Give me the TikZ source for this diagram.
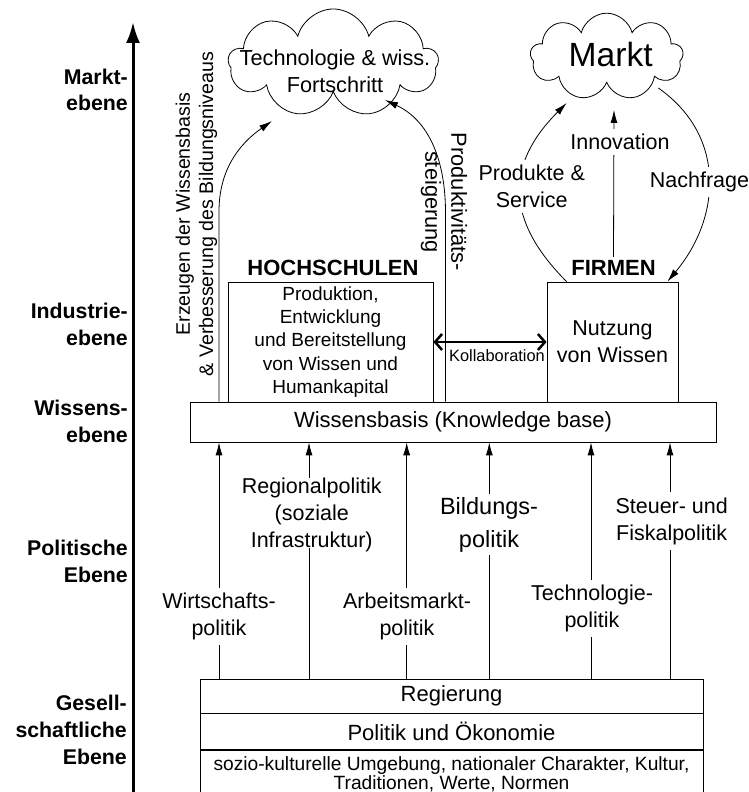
\documentclass[tikz,border=0pt]{standalone}
\usepackage{fontspec}
\setmainfont{Liberation Sans}
\usetikzlibrary{positioning, arrows.meta, shapes.symbols, calc}

\newcommand{\schrift}[2]{\fontsize{#1}{#2}\selectfont}

\begin{document}
\begin{tikzpicture}[x=1pt, y=1pt, >={Latex[length=13pt,width=7pt]},
    box/.style={draw, line width=0.8pt, inner sep=0pt, align=center},
    wolke/.style={cloud, draw, line width=0.8pt, cloud puffs=9, cloud ignores aspect, inner sep=0pt},
    ebene/.style={anchor=east, align=right, inner sep=0pt, font=\bfseries\schrift{21.3}{26.7}},
    politik/.style={align=center, fill=white, inner xsep=2pt, inner ysep=5pt, font=\schrift{21.5}{27}},
    pfeil/.style={->, line width=0.8pt}]

    \useasboundingbox (0,0) rectangle (749,792);
    \clip (0,0) rectangle (749,792);

    \coordinate (achse0) at (133,-5);
    \coordinate (achse1) at (133,770);
    \draw[line width=3pt, -{Latex[length=21pt,width=14pt]}] (achse0) -- (achse1);

    \node[ebene] (lvmarkt) at (128,702) {Markt-\\ebene};
    \node[ebene] (lvindustrie) at (128,467.3) {Industrie-\\ebene};
    \node[ebene] (lvwissen) at (128,370.3) {Wissens-\\ebene};
    \node[ebene] (lvpolitik) at (128,230.3) {Politische\\Ebene};
    \node[ebene] (lvgesell) at (127,62) {Gesell-\\schaftliche\\Ebene};

    \node[wolke, minimum width=210pt, minimum height=108pt] (tf) at (333.3,729) {};
    \node[align=center, font=\schrift{21.7}{27}] (tftext) at (335,720.5) {Technologie \& wiss.\\Fortschritt};
    \node[wolke, minimum width=153pt, minimum height=87pt] (mk) at (606.7,735.3) {};
    \node[font=\schrift{33.6}{40}] (mktext) at (610.7,737) {Markt};

    \node[box, minimum width=526pt, minimum height=40pt, font=\schrift{22}{26}] (wb) at (453,370) {Wissensbasis (Knowledge base)};
    \node[box, minimum width=205pt, minimum height=120pt, font=\schrift{19}{23.3}] (hs) at (330.5,450) {Produktion,\\Entwicklung\\und Bereitstellung\\von Wissen und\\Humankapital};
    \node[box, minimum width=131pt, minimum height=120pt, font=\schrift{21.5}{27}] (fi) at (612.5,450) {Nutzung\\von Wissen};
    \node[font=\bfseries\schrift{22}{26}] (hslbl) at (333,524) {HOCHSCHULEN};
    \node[font=\bfseries\schrift{22}{26}] (filbl) at (613.5,524) {FIRMEN};

    \node[box, minimum width=503pt, minimum height=34pt, font=\schrift{22}{26}] (rg) at (451.5,96) {Regierung};
    \node[box, minimum width=503pt, minimum height=36pt, font=\schrift{22}{26}, below=0pt of rg] (po) {Politik und Ökonomie};
    \node[box, minimum width=503pt, minimum height=47pt, font=\schrift{19.2}{19.5}, below=0pt of po] (so) {sozio-kulturelle Umgebung, nationaler Charakter, Kultur,\\Traditionen, Werte, Normen};

    \coordinate (e0) at (219,0);
    \coordinate (e1) at (445.5,0);
    \coordinate (tfl) at ($(tf.center)+(-61.3,-58)$);
    \coordinate (tfr) at ($(tf.center)+(51.7,-37)$);
    \coordinate (mkl) at ($(mk.center)+(-40,-46.3)$);
    \coordinate (mkb) at ($(mk.center)+(7.3,-53.3)$);
    \coordinate (mkr) at ($(mk.center)+(51.6,-31.3)$);

    \foreach \x [count=\i] in {219,309,406.7,489.3,591,670}
        \coordinate (p\i) at (\x,0);

    \foreach \i in {1,...,6}
        \draw[pfeil] (rg.north -| p\i) -- (wb.south -| p\i);

    \draw[pfeil] (wb.north -| e0) -- ++(0,190) to[out=90, in=215] (tfl);
    \draw[pfeil] (wb.north -| e1) -- ++(0,189) to[out=90, in=-25] (tfr);

    \path[pfeil]
    ([xshift=20pt]fi.north west) edge [out=135, in=225, looseness=1.25] (mkl)
    (filbl.north) edge (mkb)
    (mkr) edge [out=-35, in=50, looseness=1.1] ([xshift=-11pt]fi.north east)
    ;
    \draw[<->, line width=2.5pt, >={Straight Barb[length=7pt,width=16pt]}] (hs.east) -- (fi.west);
    \node[font=\schrift{16.4}{20}] (kol) at (497,436) {Kollaboration};

    \node[rotate=90, align=center, font=\schrift{19.6}{23.3}] (erz) at (196.5,578) {Erzeugen der Wissensbasis\\\& Verbesserung des Bildungsniveaus};
    \node[rotate=-90, align=center, font=\schrift{21.8}{26}] (prk) at (444,590) {Produktivitäts-\\steigerung};

    \node[politik] (inno) at (620,650.3) {Innovation};
    \node[politik] (nach) at (699.5,610) {Nachfrage};
    \node[politik] (prod) at (531.7,605.3) {Produkte \&\\Service};

    \node[politik] (wp) at (219,175.3) {Wirtschafts-\\politik};
    \node[politik, inner ysep=0pt] (rp) at (311.7,277) {Regionalpolitik\\(soziale\\Infrastruktur)};
    \node[politik] (ap) at (407,175.3) {Arbeitsmarkt-\\politik};
    \node[politik, inner ysep=3.5pt, font=\schrift{23.5}{32.7}] (bp) at (489,267.3) {Bildungs-\\politik};
    \node[politik] (tp) at (592,183.2) {Technologie-\\politik};
    \node[politik] (sp) at (671.7,271) {Steuer- und\\Fiskalpolitik};
    \draw[line width=0.8pt] (rg.north -| p2) -- ++(0,131);
\end{tikzpicture}
\end{document}
